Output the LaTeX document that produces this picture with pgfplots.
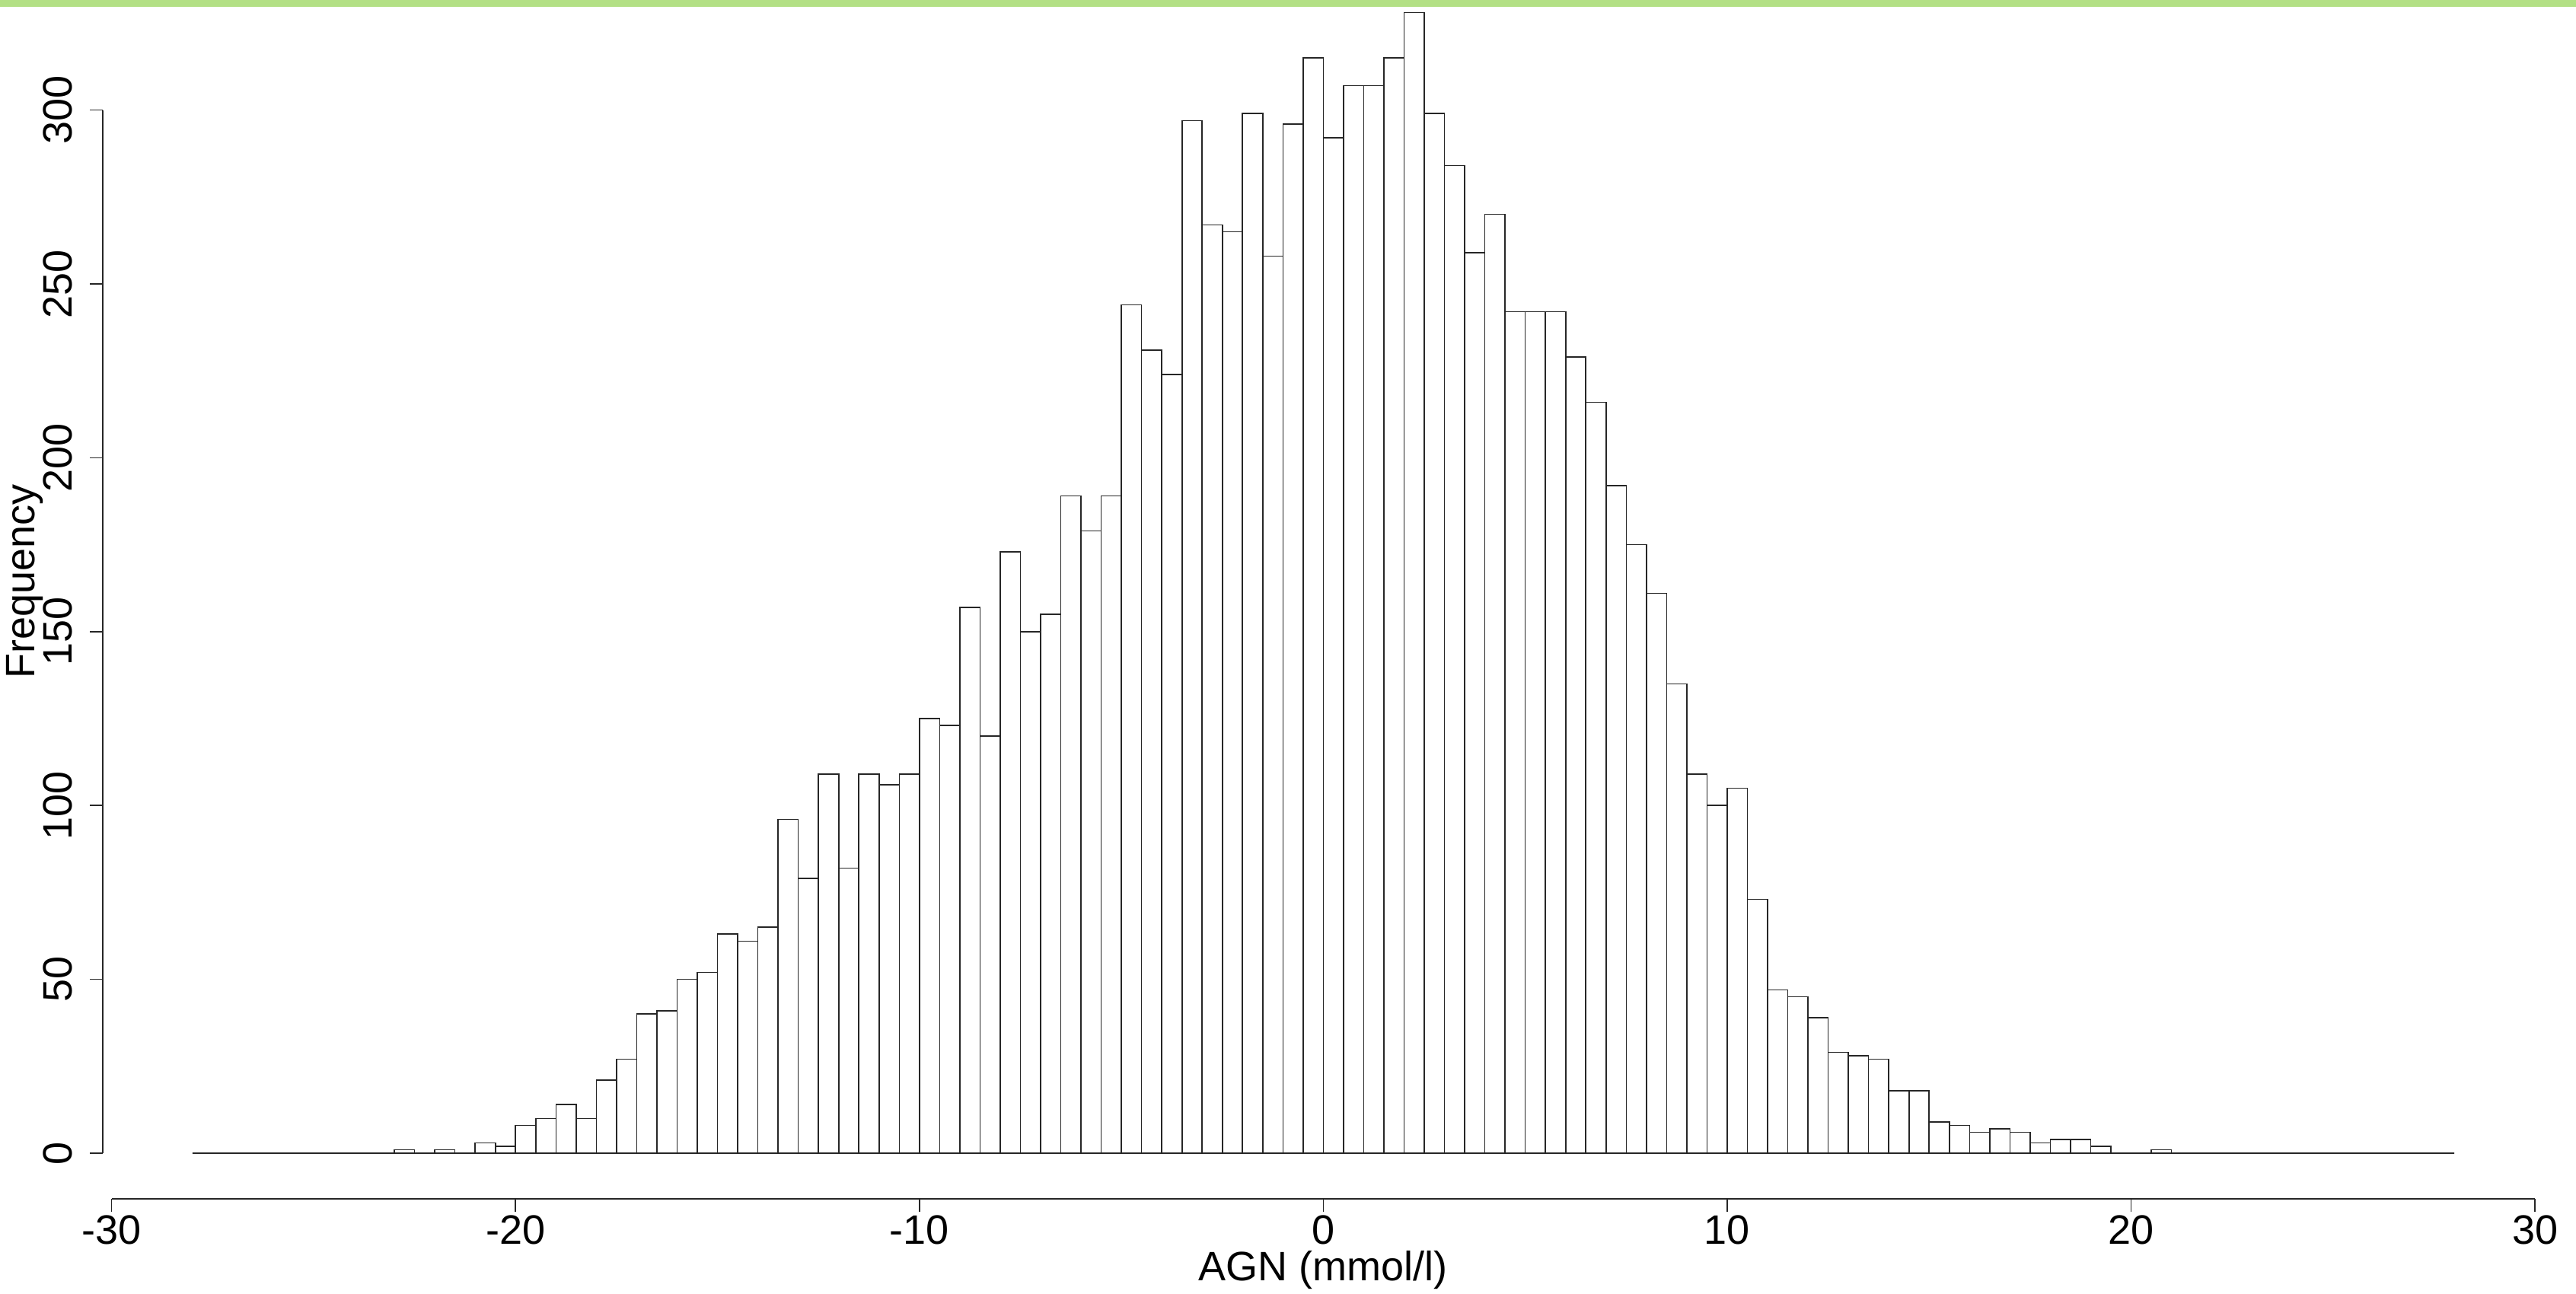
\documentclass[border=0pt]{standalone}
\usepackage{pgfplots}
\pgfplotsset{compat=1.18}
\usepackage{fontspec}
\setmainfont{Liberation Sans}

\definecolor{bandgreen}{RGB}{179,224,133}
\newcommand{\rfont}{\fontsize{13.5}{16}\selectfont}

% histogram of AGN, bins of 0.5 mmol/l; x = left edge, last row = right edge
\pgfplotstableread{
x     freq
-28.0 0
-27.5 0
-27.0 0
-26.5 0
-26.0 0
-25.5 0
-25.0 0
-24.5 0
-24.0 0
-23.5 0
-23.0 1
-22.5 0
-22.0 1
-21.5 0
-21.0 3
-20.5 2
-20.0 8
-19.5 10
-19.0 14
-18.5 10
-18.0 21
-17.5 27
-17.0 40
-16.5 41
-16.0 50
-15.5 52
-15.0 63
-14.5 61
-14.0 65
-13.5 96
-13.0 79
-12.5 109
-12.0 82
-11.5 109
-11.0 106
-10.5 109
-10.0 125
-9.5  123
-9.0  157
-8.5  120
-8.0  173
-7.5  150
-7.0  155
-6.5  189
-6.0  179
-5.5  189
-5.0  244
-4.5  231
-4.0  224
-3.5  297
-3.0  267
-2.5  265
-2.0  299
-1.5  258
-1.0  296
-0.5  315
0.0   292
0.5   307
1.0   307
1.5   315
2.0   328
2.5   299
3.0   284
3.5   259
4.0   270
4.5   242
5.0   242
5.5   242
6.0   229
6.5   216
7.0   192
7.5   175
8.0   161
8.5   135
9.0   109
9.5   100
10.0  105
10.5  73
11.0  47
11.5  45
12.0  39
12.5  29
13.0  28
13.5  27
14.0  18
14.5  18
15.0  9
15.5  8
16.0  6
16.5  7
17.0  6
17.5  3
18.0  4
18.5  4
19.0  2
19.5  0
20.0  0
20.5  1
21.0  0
21.5  0
22.0  0
22.5  0
23.0  0
23.5  0
24.0  0
24.5  0
25.0  0
25.5  0
26.0  0
26.5  0
27.0  0
27.5  0
28.0  0
}\agn

\begin{document}
\begin{tikzpicture}[x=1pt,y=1pt]
\useasboundingbox (0,0) rectangle (846,425);
\fill[bandgreen] (0,422.8) rectangle (846,425);
\begin{axis}[
    at={(33.75pt,31.25pt)}, anchor=south west,
    scale only axis, width=801.7pt, height=389.57pt,
    xmin=-30.22, xmax=30.22, ymin=-13.13, ymax=328,
    clip=false,
    axis line style={draw=none},
    xtick={-30,-20,...,30}, ytick={0,50,...,300},
    xtick pos=lower, ytick pos=left,
    tick align=outside, major tick length=4.2pt,
    tick style={black!85, line width=0.4pt},
    /pgf/number format/assume math mode=true,
    tick label style={font=\rfont, inner sep=0pt},
    xticklabel style={anchor=north, yshift=-1.05pt},
    yticklabel style={xshift=-5.55pt, rotate=90, anchor=south},
    xlabel={AGN (mmol/l)}, ylabel={Frequency},
    every axis x label/.style={at={(axis cs:0,-13.13)}, yshift=-27pt,
        anchor=base, font=\rfont, inner sep=0pt},
    every axis y label/.style={at={(axis cs:-30.22,164.4)}, xshift=-22.5pt,
        rotate=90, anchor=base, font=\rfont, inner sep=0pt},
]
\addplot[ybar interval, draw=black!85, fill=white, line width=0.4pt]
    table[x=x, y=freq] {\agn};
% R-style detached axis lines
\draw[black!85, line width=0.4pt] (axis cs:-30,-13.13) -- (axis cs:30,-13.13);
\draw[black!85, line width=0.4pt] (axis cs:-30.22,0) -- (axis cs:-30.22,300);
\end{axis}
\end{tikzpicture}
\end{document}
